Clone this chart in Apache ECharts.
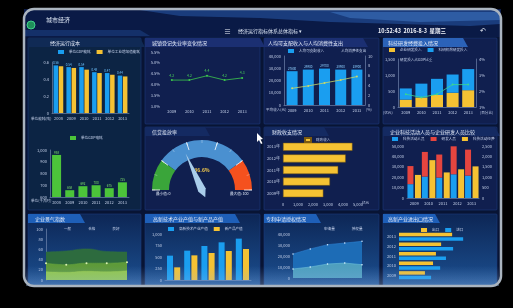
<!DOCTYPE html>
<html><head><meta charset="utf-8">
<script src="https://cdn.jsdelivr.net/npm/echarts@6/dist/echarts.min.js"></script>
<style>html,body{margin:0;padding:0;background:#000;}#c{width:513px;height:308px;}</style>
</head><body><div id="c"></div>
<script>
const FONT = '"Noto Sans CJK SC","Noto Sans",sans-serif';
// ---------- data ----------
const years6 = ['2008','2009','2010','2011','2012','2013'];
const years5 = ['2009','2010','2011','2012','2013'];
const energyGdp = [0.56,0.54,0.54,0.48,0.47,0.44];
const energyInd = [0.55,0.53,0.51,0.47,0.45,0.43];
const powerGdp = [958,658,692,700,675,725];
const unemploy = [4.2,4.2,4.4,4.2,4.3];
const income = [27600,28900,29700,28900,28900];
const spendShare = [3.4,3.9,4.5,5.1,5.8];
const rdCompany = [230,300,375,445,525];
const rdInstitute = [350,430,505,570,660];
const rdShare = [1.8,1.6,1.8,2.4,2.4];
const creditRate = 36.6;
const revenue = [2690,3130,3680,4180,4630];
const techStaff = [13300,20600,19600,22800,21500];
const rdStaff = [17400,23700,22200,26900,25000];
const techFund = [1110,1820,1230,1380,1520];
const idxHigh = [55,57,61,56,55];
const idxMid = [33,30,33,33,35];
const idxLow = [16,15,17,16,18];
const hiTechOutput = [529,638,739,819,899];
const newProduct = [275,536,587,630,674];
const patentApply = [21800,26400,30300,31800,33300];
const patentGrant = [8200,10000,12700,13600,12100];
const exportVal = [80,105,114,130,164];
const importVal = [99,127,145,167,198];

// ---------- colours ----------
const BLUE='#1a9ef0', YEL='#f5c233', GRN='#4cc43a', RED='#e5453f';
const AX='#7f93bb', LBL='#c3cfe8';

const grids=[], xAxes=[], yAxes=[], series=[], legends=[], G=[];
function grid(l,t,w,h){grids.push({left:l,top:t,width:w,height:h});return grids.length-1;}
function ax(o){
  const base={axisLine:{show:true,lineStyle:{color:AX,width:0.6}},axisTick:{show:false},
    axisLabel:{color:LBL,fontSize:4,fontFamily:FONT,margin:3},splitLine:{show:false}};
  return Object.assign(base,o);
}
function lbl(extra){return Object.assign({color:LBL,fontSize:4,fontFamily:FONT,margin:3},extra||{});}
function legend(data,left,top,icons){
  legends.push({data:data.map((n,i)=>({name:n,icon:icons?icons[i]:'rect'})),left,top,itemWidth:6,itemHeight:4,itemGap:6,
    textStyle:{color:'#c8d4ee',fontSize:3.6,fontFamily:FONT},padding:0});
}
function rect(x,y,w,h,fill,z,stroke,lw,r){G.push({type:'rect',shape:{x,y,width:w,height:h,r:r||0},style:{fill,stroke:stroke||null,lineWidth:lw||0},z,silent:true});}
function poly(points,fill,z){G.push({type:'polygon',shape:{points},style:{fill},z,silent:true});}
function text(x,y,t,size,color,align,weight){G.push({type:'text',x,y,z:60,silent:true,
  style:{text:t,fill:color,font:(weight||'normal')+' '+size+'px '+FONT,textAlign:align||'left',align:align||'left',textVerticalAlign:'middle',verticalAlign:'middle'}});}

// ---------- backgrounds ----------
rect(24,9,477,277,'#081434',-20,null,0,10);
// header
rect(24,9,477,28,'#0a1a46',-19,null,0,0);
poly([[140,10],[500,10],[500,24],[470,26],[330,22],[260,18],[180,16]],'rgba(40,90,170,0.55)',-18);
poly([[330,12],[500,12],[500,20],[420,22],[350,18]],'rgba(70,130,210,0.45)',-18);
poly([[24,30],[140,30],[150,36],[24,36]],'rgba(30,70,140,0.5)',-18);
// panels
function panel(x,y,w,h,fill,tabW,tabFill,title,titleX){
  rect(x,y,w,h,fill,-15,'#1d3b7d',0.6,1);
  poly([[x,y],[x+tabW,y],[x+tabW+5,y+9],[x,y+9]],tabFill,-14);
  text(titleX||x+8,y+5,title,5,'#e6ecf8');
}
panel(28,38,113,172,'#0c2444',112,'#102a55','经济运行成本',50);
panel(145,38,115,86,'#101f4f',115,'#1b2f72','城镇登记失业率变化情况',152);
panel(264,38,115,86,'#101f4f',99,'#1b2f72','人均可支配收入与人均消费性支出',268);
panel(383,38,114,86,'#101f4f',80,'#2b62b8','科技研发经费投入情况',388);
panel(145,127,115,83,'#101f4f',60,'#142a62','信贷投放率',152);
panel(264,127,115,83,'#101f4f',60,'#142a62','财政收支情况',272);
panel(383,127,114,83,'#101f4f',112,'#142a62','企业科技活动人员与企业研发人员比较',390);
const grad={type:'linear',x:0,y:0,x2:0,y2:1,colorStops:[{offset:0,color:'#0d2655'},{offset:1,color:'#1b4f90'}]};
panel(28,214,113,72,grad,52,'#1e5fb8','企业景气指数',35);
panel(145,214,115,72,grad,90,'#1e5fb8','高新技术产业产值与新产品产值',153);
panel(264,214,115,72,grad,52,'#1e5fb8','专利申请授权情况',266);
panel(383,214,114,72,grad,52,'#1e5fb8','高新产业进出口情况',388);

// header texts
G.push({type:'circle',shape:{cx:31,cy:25,r:4},style:{fill:'#1f8f5a',stroke:'#3fd08a',lineWidth:1},z:55,silent:true});
text(46,20,'城市经济',6,'#dfe8f6');
text(224,31,'≡',7,'#e8eef8');
text(238,31,'经济运行指标体系总体指标 ▾',5,'#dfe8f6');
text(378,31,'10:52:43  2016-8-3  星期三',5.5,'#f2f5fb','left','bold');
text(480,30,'↶',7,'#e8eef8');
// unit labels
text(31,119,'单位能耗(吨)',3.6,LBL);
text(31,201,'单位(千瓦时)',3.6,LBL);
text(266,110,'平均收入(元)',3.6,LBL);
text(366,110,'(%)',3.6,LBL);
text(383,113,'(亿元)',3.6,LBL);
text(480,113,'(百分比)',3.6,LBL);
text(362,203,'亿元',3.6,LBL);
text(156,194,'最小值: 0',3.6,'#dfe8f6');
text(230,194,'最大值: 100',3.6,'#dfe8f6');
// cursor
poly([[257,133],[257,142],[259,140],[261,144],[262.5,143.3],[260.5,139.4],[263,139]],'#ffffff',70);
// bottom glare, masks and bezel
G.push({type:'rect',shape:{x:26,y:266,width:473,height:20},style:{fill:{type:'linear',x:0,y:0,x2:0,y2:1,colorStops:[{offset:0,color:'rgba(120,170,230,0)'},{offset:1,color:'rgba(150,190,240,0.35)'}]}},z:80,silent:true});
rect(0,287,513,21,'#000',90);
rect(0,0,513,8,'#000',90);
rect(0,0,23,308,'#000',90);
rect(502,0,11,308,'#000',90);
G.push({type:'rect',shape:{x:24,y:9,width:477,height:277,r:10},style:{fill:null,stroke:'#aab4bf',lineWidth:2.5},z:95,silent:true});

// ---------- charts ----------
// G0: energy bars
let g=grid(52,62,77,51);
xAxes.push(ax({type:'category',gridIndex:g,data:years6,axisLabel:lbl()}));
yAxes.push(ax({type:'value',gridIndex:g,min:0,max:0.6,interval:0.2,axisLabel:lbl()}));
series.push({type:'bar',name:'单位GDP能耗',xAxisIndex:0,yAxisIndex:0,data:energyGdp,barWidth:4.5,barGap:'15%',itemStyle:{color:BLUE},
  label:{show:true,position:'top',fontSize:3,color:'#6fc3ff',distance:1}});
series.push({type:'bar',name:'单位工业增加值能耗',xAxisIndex:0,yAxisIndex:0,data:energyInd,barWidth:4.5,barGap:'15%',itemStyle:{color:YEL}});
legend(['单位GDP能耗','单位工业增加值能耗'],58,50);

// G1: power bars
g=grid(50,150,79,47);
xAxes.push(ax({type:'category',gridIndex:g,data:years6,axisLabel:lbl()}));
yAxes.push(ax({type:'value',gridIndex:g,min:600,max:1000,interval:100,axisLabel:lbl()}));
series.push({type:'bar',name:'单位GDP电耗',xAxisIndex:1,yAxisIndex:1,data:powerGdp,barWidth:9,itemStyle:{color:GRN},
  label:{show:true,position:'top',fontSize:3,color:'#7ee06a',distance:1}});
legend(['单位GDP电耗'],70,136);

// G2: unemployment line
g=grid(163,52,88,54);
xAxes.push(ax({type:'category',gridIndex:g,data:years5,axisLine:{show:false},axisLabel:lbl()}));
yAxes.push(ax({type:'value',gridIndex:g,min:3,max:5.5,interval:0.5,axisLine:{show:false},axisLabel:lbl({formatter:v=>v.toFixed(1)+'%'})}));
series.push({type:'line',name:'登记失业率',xAxisIndex:2,yAxisIndex:2,data:unemploy,symbol:'circle',symbolSize:2,
  lineStyle:{color:'#3cc94c',width:0.8},itemStyle:{color:'#3cc94c'},
  label:{show:true,position:'top',fontSize:3.5,color:'#49d35a',distance:2}});

// G3: income bars + line
g=grid(284,56,81,49);
xAxes.push(ax({type:'category',gridIndex:g,data:years5,axisLabel:lbl()}));
yAxes.push(ax({type:'value',gridIndex:g,min:0,max:40000,interval:10000,axisLabel:lbl()}));
yAxes.push(ax({type:'value',gridIndex:g,position:'right',min:0,max:10,interval:2,axisLabel:lbl()}));
series.push({type:'bar',name:'人均可支配收入',xAxisIndex:3,yAxisIndex:3,data:income,barWidth:11,itemStyle:{color:BLUE},
  label:{show:true,position:'top',fontSize:3,color:'#8fd0ff',distance:1}});
series.push({type:'line',name:'人均消费性支出',xAxisIndex:3,yAxisIndex:4,data:spendShare,symbol:'circle',symbolSize:2,
  lineStyle:{color:'#c8d86a',width:0.8},itemStyle:{color:'#c8d86a'}});
legend(['人均可支配收入','人均消费性支出'],288,49,['rect','line']);

// G4: R&D stacked bars + line
g=grid(398,59,78,48);
xAxes.push(ax({type:'category',gridIndex:g,data:years5,axisLabel:lbl()}));
yAxes.push(ax({type:'value',gridIndex:g,min:0,max:1500,interval:500,axisLabel:lbl()}));
yAxes.push(ax({type:'value',gridIndex:g,position:'right',min:1,max:4,interval:1,axisLabel:lbl({formatter:'{value}%'})}));
series.push({type:'bar',name:'企业研发投入',stack:'rd',xAxisIndex:4,yAxisIndex:5,data:rdCompany,barWidth:12,itemStyle:{color:YEL}});
series.push({type:'bar',name:'科研机构研发投入',stack:'rd',xAxisIndex:4,yAxisIndex:5,data:rdInstitute,barWidth:12,itemStyle:{color:BLUE}});
series.push({type:'line',name:'研发投入占GDP比重',xAxisIndex:4,yAxisIndex:6,data:rdShare,symbol:'circle',symbolSize:2,
  lineStyle:{color:'#3bd68f',width:0.8},itemStyle:{color:'#3bd68f'}});
legend(['企业研发投入','科研机构研发投入','研发投入占GDP比重'],389,48,['rect','rect','line']);

// gauge
series.push({type:'gauge',name:'信贷投放率',center:[202,190],radius:50,startAngle:180,endAngle:0,min:0,max:100,splitNumber:5,
  axisLine:{lineStyle:{width:17,color:[[0.2,'#3aa53a'],[0.8,'#4a90d0'],[1,'#f5511e']]}},
  axisTick:{show:true,splitNumber:2,length:3,distance:-17,lineStyle:{color:'rgba(255,255,255,0.6)',width:0.5}},
  splitLine:{show:true,length:8,distance:-17,lineStyle:{color:'#ffffff',width:0.8}},
  axisLabel:{show:false},
  pointer:{length:'80%',width:4,itemStyle:{color:'#a9cdea'}},
  anchor:{show:false},
  title:{show:false},
  detail:{formatter:'{value}%',offsetCenter:[0,'-40%'],fontSize:5,color:'#f2c94c',fontFamily:FONT},
  data:[{value:creditRate,name:'信贷投放率'}]});

// G5: fiscal horizontal bars
g=grid(283,141,75,58);
xAxes.push(ax({type:'value',gridIndex:g,min:0,max:5000,interval:1000,axisLine:{show:false},axisLabel:lbl()}));
yAxes.push(ax({type:'category',gridIndex:g,data:years5,axisLine:{show:false},axisLabel:lbl({formatter:v=>v+'年'})}));
series.push({type:'bar',name:'财政收入',xAxisIndex:5,yAxisIndex:7,data:revenue,barWidth:8,itemStyle:{color:YEL,borderColor:'#7a5a10',borderWidth:0.5}});
legend(['财政收入'],304,137);

// G6: staff stacked + fund
g=grid(407,146,72,52);
xAxes.push(ax({type:'category',gridIndex:g,data:years5,axisLabel:lbl()}));
yAxes.push(ax({type:'value',gridIndex:g,min:0,max:50000,interval:10000,axisLine:{show:false},axisLabel:lbl()}));
yAxes.push(ax({type:'value',gridIndex:g,position:'right',min:0,max:2500,interval:500,axisLine:{show:false},axisLabel:lbl()}));
series.push({type:'bar',name:'科技活动人员',stack:'st',xAxisIndex:6,yAxisIndex:8,data:techStaff,barWidth:6,barGap:'25%',itemStyle:{color:BLUE}});
series.push({type:'bar',name:'研发人员',stack:'st',xAxisIndex:6,yAxisIndex:8,data:rdStaff,barWidth:6,barGap:'25%',itemStyle:{color:RED}});
series.push({type:'bar',name:'科技活动经费',xAxisIndex:6,yAxisIndex:9,data:techFund,barWidth:6,barGap:'25%',itemStyle:{color:YEL}});
legend(['科技活动人员','研发人员','科技活动经费'],392,137);

// G7: index areas
g=grid(46,229,81,51);
xAxes.push(ax({type:'category',gridIndex:g,data:years5,boundaryGap:false,axisLine:{show:false},axisLabel:{show:false}}));
yAxes.push(ax({type:'value',gridIndex:g,min:0,max:100,interval:20,axisLabel:lbl()}));
series.push({type:'line',name:'一般',xAxisIndex:7,yAxisIndex:10,data:idxHigh,smooth:true,symbol:'none',
  lineStyle:{color:'#2f7040',width:0.5},areaStyle:{color:'#2d6b3e',opacity:1},
  label:{show:true,position:'top',fontSize:3,color:'#9fd38a'}});
series.push({type:'line',name:'合格',xAxisIndex:7,yAxisIndex:10,data:idxMid,smooth:true,symbol:'circle',symbolSize:2,
  itemStyle:{color:'#d8f0b0'},lineStyle:{color:'#6aa83e',width:0.5},areaStyle:{color:'#5e9a3a',opacity:1}});
series.push({type:'line',name:'良好',xAxisIndex:7,yAxisIndex:10,data:idxLow,smooth:true,symbol:'none',
  lineStyle:{color:'#9acd48',width:0.5},areaStyle:{color:'#93c84a',opacity:1}});
legend(['一般','合格','良好'],53,227,['line','line','line']);

// G8: hi-tech bars
g=grid(165,234,86,46);
xAxes.push(ax({type:'category',gridIndex:g,data:years5,axisLabel:{show:false}}));
yAxes.push(ax({type:'value',gridIndex:g,min:0,max:1000,interval:250,axisLine:{show:false},axisLabel:lbl()}));
series.push({type:'bar',name:'高新技术产业产值',xAxisIndex:8,yAxisIndex:11,data:hiTechOutput,barWidth:6,barGap:'20%',itemStyle:{color:BLUE}});
series.push({type:'bar',name:'新产品产值',xAxisIndex:8,yAxisIndex:11,data:newProduct,barWidth:6,barGap:'20%',itemStyle:{color:YEL}});
legend(['高新技术产业产值','新产品产值'],168,227);

// G9: patents areas
g=grid(293,234,69,44);
xAxes.push(ax({type:'category',gridIndex:g,data:years5,boundaryGap:false,axisLine:{show:false},axisLabel:{show:false}}));
yAxes.push(ax({type:'value',gridIndex:g,min:0,max:40000,interval:10000,axisLine:{show:false},axisLabel:lbl()}));
series.push({type:'line',name:'申请量',xAxisIndex:9,yAxisIndex:12,data:patentApply,symbol:'circle',symbolSize:1.5,
  itemStyle:{color:'#cfe6ff'},lineStyle:{color:'#2b7fd0',width:0.6},areaStyle:{color:'#1d6cb6',opacity:1}});
series.push({type:'line',name:'授权量',xAxisIndex:9,yAxisIndex:12,data:patentGrant,symbol:'circle',symbolSize:1.5,
  itemStyle:{color:'#dff4ff'},lineStyle:{color:'#6cc0d8',width:0.6},areaStyle:{color:'#4f9fbe',opacity:1}});
legend(['申请量','授权量'],313,227,['line','line']);

// G10: import/export horizontal
g=grid(399,232,81,48);
xAxes.push(ax({type:'value',gridIndex:g,show:false,min:0,max:250}));
yAxes.push(ax({type:'category',gridIndex:g,data:years5,axisLine:{show:false},axisLabel:lbl()}));
series.push({type:'bar',name:'出口',xAxisIndex:10,yAxisIndex:13,data:exportVal,barWidth:3.5,barGap:'30%',itemStyle:{color:YEL}});
series.push({type:'bar',name:'进口',xAxisIndex:10,yAxisIndex:13,data:importVal,barWidth:3.5,barGap:'30%',itemStyle:{color:BLUE}});
legend(['出口','进口'],421,228);

const chart = echarts.init(document.getElementById('c'), null, {renderer:'canvas'});
chart.setOption({
  backgroundColor:'#000',
  animation:false,
  textStyle:{fontFamily:FONT},
  grid:grids, xAxis:xAxes, yAxis:yAxes, series:series, legend:legends, graphic:{elements:G}
});
</script></body></html>
